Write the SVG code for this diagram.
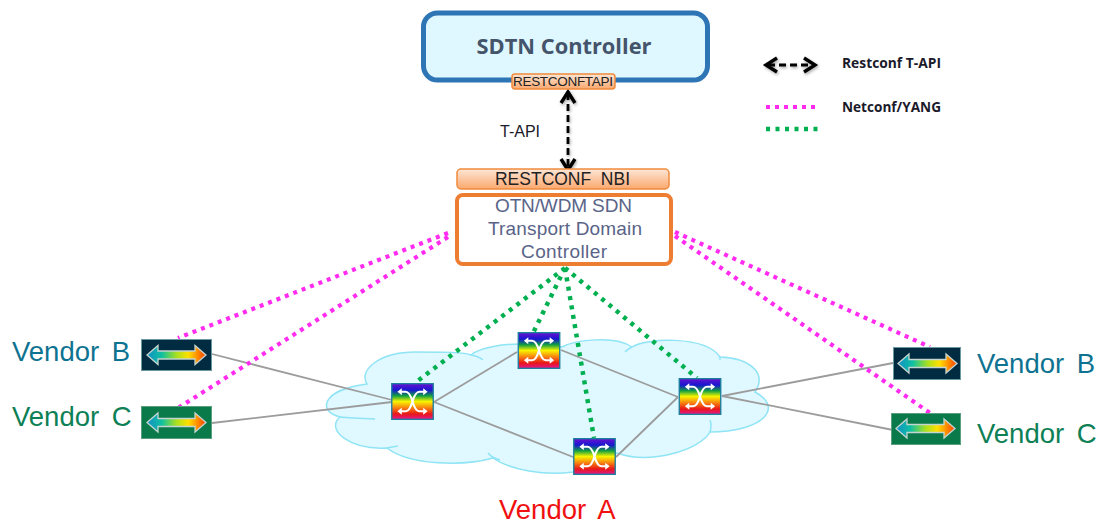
<svg xmlns="http://www.w3.org/2000/svg" width="1099" height="525" viewBox="0 0 1099 525">
<style>
.sans{font-family:"Liberation Sans",Arial,sans-serif}
.bold{font-family:"Open Sans","Noto Sans",sans-serif;font-weight:700}
.vendor{font-size:27.500px;word-spacing:5px}
.pill{fill:url(#pillGrad);stroke:#f08a3c;stroke-width:1.5}
.mag{fill:none;stroke:#ff2cf0;stroke-width:4.200;stroke-dasharray:4 5}
.grn{fill:none;stroke:#00b050;stroke-width:4.500;stroke-dasharray:4 5.500}
.link{fill:none;stroke:#9c9c9c;stroke-width:1.800}
.blk{fill:none;stroke:#000;stroke-width:2.800;stroke-dasharray:7 4}
.head{fill:none;stroke:#000;stroke-width:3.400}
</style>
<defs>
<filter id="soft" x="-30%" y="-30%" width="160%" height="160%"><feDropShadow dx="1" dy="1.500" stdDeviation="1.500" flood-color="#000" flood-opacity=".35"/></filter>
<linearGradient id="pillGrad" x1="0" y1="0" x2="0" y2="1"><stop offset="0" stop-color="#fde6d6"/><stop offset="1" stop-color="#fba86e"/></linearGradient>
<linearGradient id="rainbow" x1="0" y1="0" x2="0" y2="1">
<stop offset="0" stop-color="#6a10d0"/><stop offset=".18" stop-color="#1818d0"/><stop offset=".34" stop-color="#10a040"/><stop offset=".5" stop-color="#f8f400"/><stop offset=".68" stop-color="#f88010"/><stop offset=".85" stop-color="#e81818"/><stop offset="1" stop-color="#e01890"/>
</linearGradient>
<linearGradient id="arrowGrad" x1="0" y1="0" x2="1" y2="0">
<stop offset="0" stop-color="#1090c8"/><stop offset=".25" stop-color="#10c0a0"/><stop offset=".5" stop-color="#a8e020"/><stop offset=".7" stop-color="#ffe000"/><stop offset="1" stop-color="#ff4000"/>
</linearGradient>
<symbol id="sw" width="44" height="38" viewBox="0 0 44 38" overflow="visible">
<rect x="0.700" y="0.700" width="42.600" height="36.600" fill="url(#rainbow)" stroke="#1d7f9e" stroke-width="1.400"/>
<path d="M9,9H15Q19,9 22,19T29,29H36M35,9H29Q25,9 22,19T15,29H9" fill="none" stroke="#fff" stroke-width="2.200"/>
<path d="M11,5.500L6.500,9L11,12.500ZM33,5.500L37.500,9L33,12.500ZM11,25.500L6.500,29L11,32.500ZM33,25.500L37.500,29L33,32.500Z" fill="#fff"/>
</symbol>
<symbol id="dbl" width="71" height="33" viewBox="0 0 71 33" overflow="visible">
<path d="M6,16.500L17,7V12.500H54V7L65,16.500L54,26V20.500H17V26Z" fill="url(#arrowGrad)" stroke="#c4d4d0" stroke-width="1.300"/>
</symbol>
</defs>
<rect width="1099" height="525" fill="#fff"/>

<g id="cloud">
<path d="M367,384C358,370 380,352 415,352C445,352 465,352 471,355C480,347 505,344 520,344C535,344 550,345 562,347C575,340 615,335 632,347C645,338 705,335 720,357C748,358 768,372 755,392C785,408 762,432 710,432C700,450 650,465 617,453L573,472C545,476 510,470 493,458C465,466 410,466 387,448C350,450 325,430 340,417C318,412 320,390 367,384Z" fill="#e0f8ff" stroke="#8fe4f5" stroke-width="1.500"/>
<path d="M471,355Q478,356 483,360M625,352Q628,349 632,347M720,357V360M710,432Q712,425 710,420M488,453Q492,458 500,460M387,448Q392,447 398,446M340,417Q350,418 375,419" fill="none" stroke="#8fe4f5" stroke-width="1.500"/>
</g>

<g id="connectors">
<path class="link" d="M212,354L392,400M212,423L392,402M434,402L517,352M434,402L573,457M561,350L678,397M616,457L678,397M722,396L893,363M722,396L893,430"/>
<path class="mag" d="M448,233L178,338M448,237L178,408M675,232L930,347M675,236L930,413"/>
<path class="grn" d="M565,268L415,383M565,268L532,335M565,268L594,438M565,268L697,378"/>
<g filter="url(#soft)">
<path class="blk" d="M568,93V167"/>
<path class="head" d="M561,103L568,92L575,103M561,159L568,170L575,159"/>
</g>
</g>

<g id="sdtn-controller">
<rect x="423.500" y="13" width="284" height="67" rx="14" fill="#dff7ff" stroke="#2e75b6" stroke-width="5"/>
<text class="bold" x="564" y="54" font-size="22" text-anchor="middle" fill="#44546a" textLength="175" lengthAdjust="spacingAndGlyphs">SDTN Controller</text>
</g>
<g id="restconf-tapi">
<rect class="pill" x="512" y="74" width="103" height="15" rx="3"/>
<text class="sans" x="513" y="86" font-size="13.500" fill="#222" textLength="100" lengthAdjust="spacing">RESTCONFTAPI</text>
</g>
<text class="sans" x="500" y="137" font-size="16" fill="#1a1a2a">T-API</text>

<g id="restconf-nbi">
<rect class="pill" x="457" y="169" width="212" height="20" rx="4"/>
<text class="sans" x="495" y="184.500" font-size="17.500" fill="#222" textLength="135" xml:space="preserve">RESTCONF  NBI</text>
</g>
<g id="domain-controller">
<rect x="457" y="195" width="214" height="69" rx="6" fill="#fff" stroke="#ed7d31" stroke-width="4"/>
<g class="sans" font-size="19" fill="#5a6488">
<text x="495" y="212" textLength="137">OTN/WDM SDN</text>
<text x="488" y="235" textLength="154">Transport Domain</text>
<text x="521" y="258" textLength="86">Controller</text>
</g>
</g>

<g id="switch-a"><use href="#sw" x="391" y="383" width="43" height="37"/></g>
<g id="switch-b"><use href="#sw" x="517" y="332" width="44" height="37"/></g>
<g id="switch-c"><use href="#sw" x="573" y="438" width="43" height="37"/></g>
<g id="switch-d"><use href="#sw" x="678" y="378" width="44" height="37"/></g>

<g id="left-vendor-b">
<rect x="141.500" y="339.500" width="70" height="31" fill="#002b40" stroke="#6a9aa0"/>
<use href="#dbl" x="141" y="338.500"/>
<text class="sans vendor" x="12" y="361" fill="#0e7391">Vendor B</text>
</g>
<g id="left-vendor-c">
<rect x="141.500" y="406.500" width="70" height="32" fill="#0a7a4b" stroke="#5aa080"/>
<use href="#dbl" x="141" y="406"/>
<text class="sans vendor" x="12" y="426" fill="#0e8056">Vendor C</text>
</g>
<g id="right-vendor-b">
<rect x="893.500" y="347.500" width="67" height="32" fill="#002b40" stroke="#6a9aa0"/>
<use href="#dbl" x="892" y="347"/>
<text class="sans vendor" x="977" y="373" fill="#0e7391">Vendor B</text>
</g>
<g id="right-vendor-c">
<rect x="891.500" y="413.500" width="69" height="31" fill="#0a7a4b" stroke="#5aa080"/>
<use href="#dbl" x="890" y="412"/>
<text class="sans vendor" x="977" y="443" fill="#0e8056">Vendor C</text>
</g>
<text class="sans vendor" x="499" y="519" fill="#f01010">Vendor A</text>

<g id="legend">
<g filter="url(#soft)">
<path class="blk" d="M768,65H812"/>
<path class="head" d="M777,58L766,65L777,72M804,58L815,65L804,72"/>
</g>
<path class="mag" d="M766,107H820"/>
<path class="grn" d="M766,129H820"/>
<text class="bold" x="842" y="68" font-size="13.500" fill="#1a1a2a" textLength="99" lengthAdjust="spacingAndGlyphs">Restconf T-API</text>
<text class="bold" x="842" y="112" font-size="13.500" fill="#1a1a2a" textLength="99" lengthAdjust="spacingAndGlyphs">Netconf/YANG</text>
</g>
</svg>
